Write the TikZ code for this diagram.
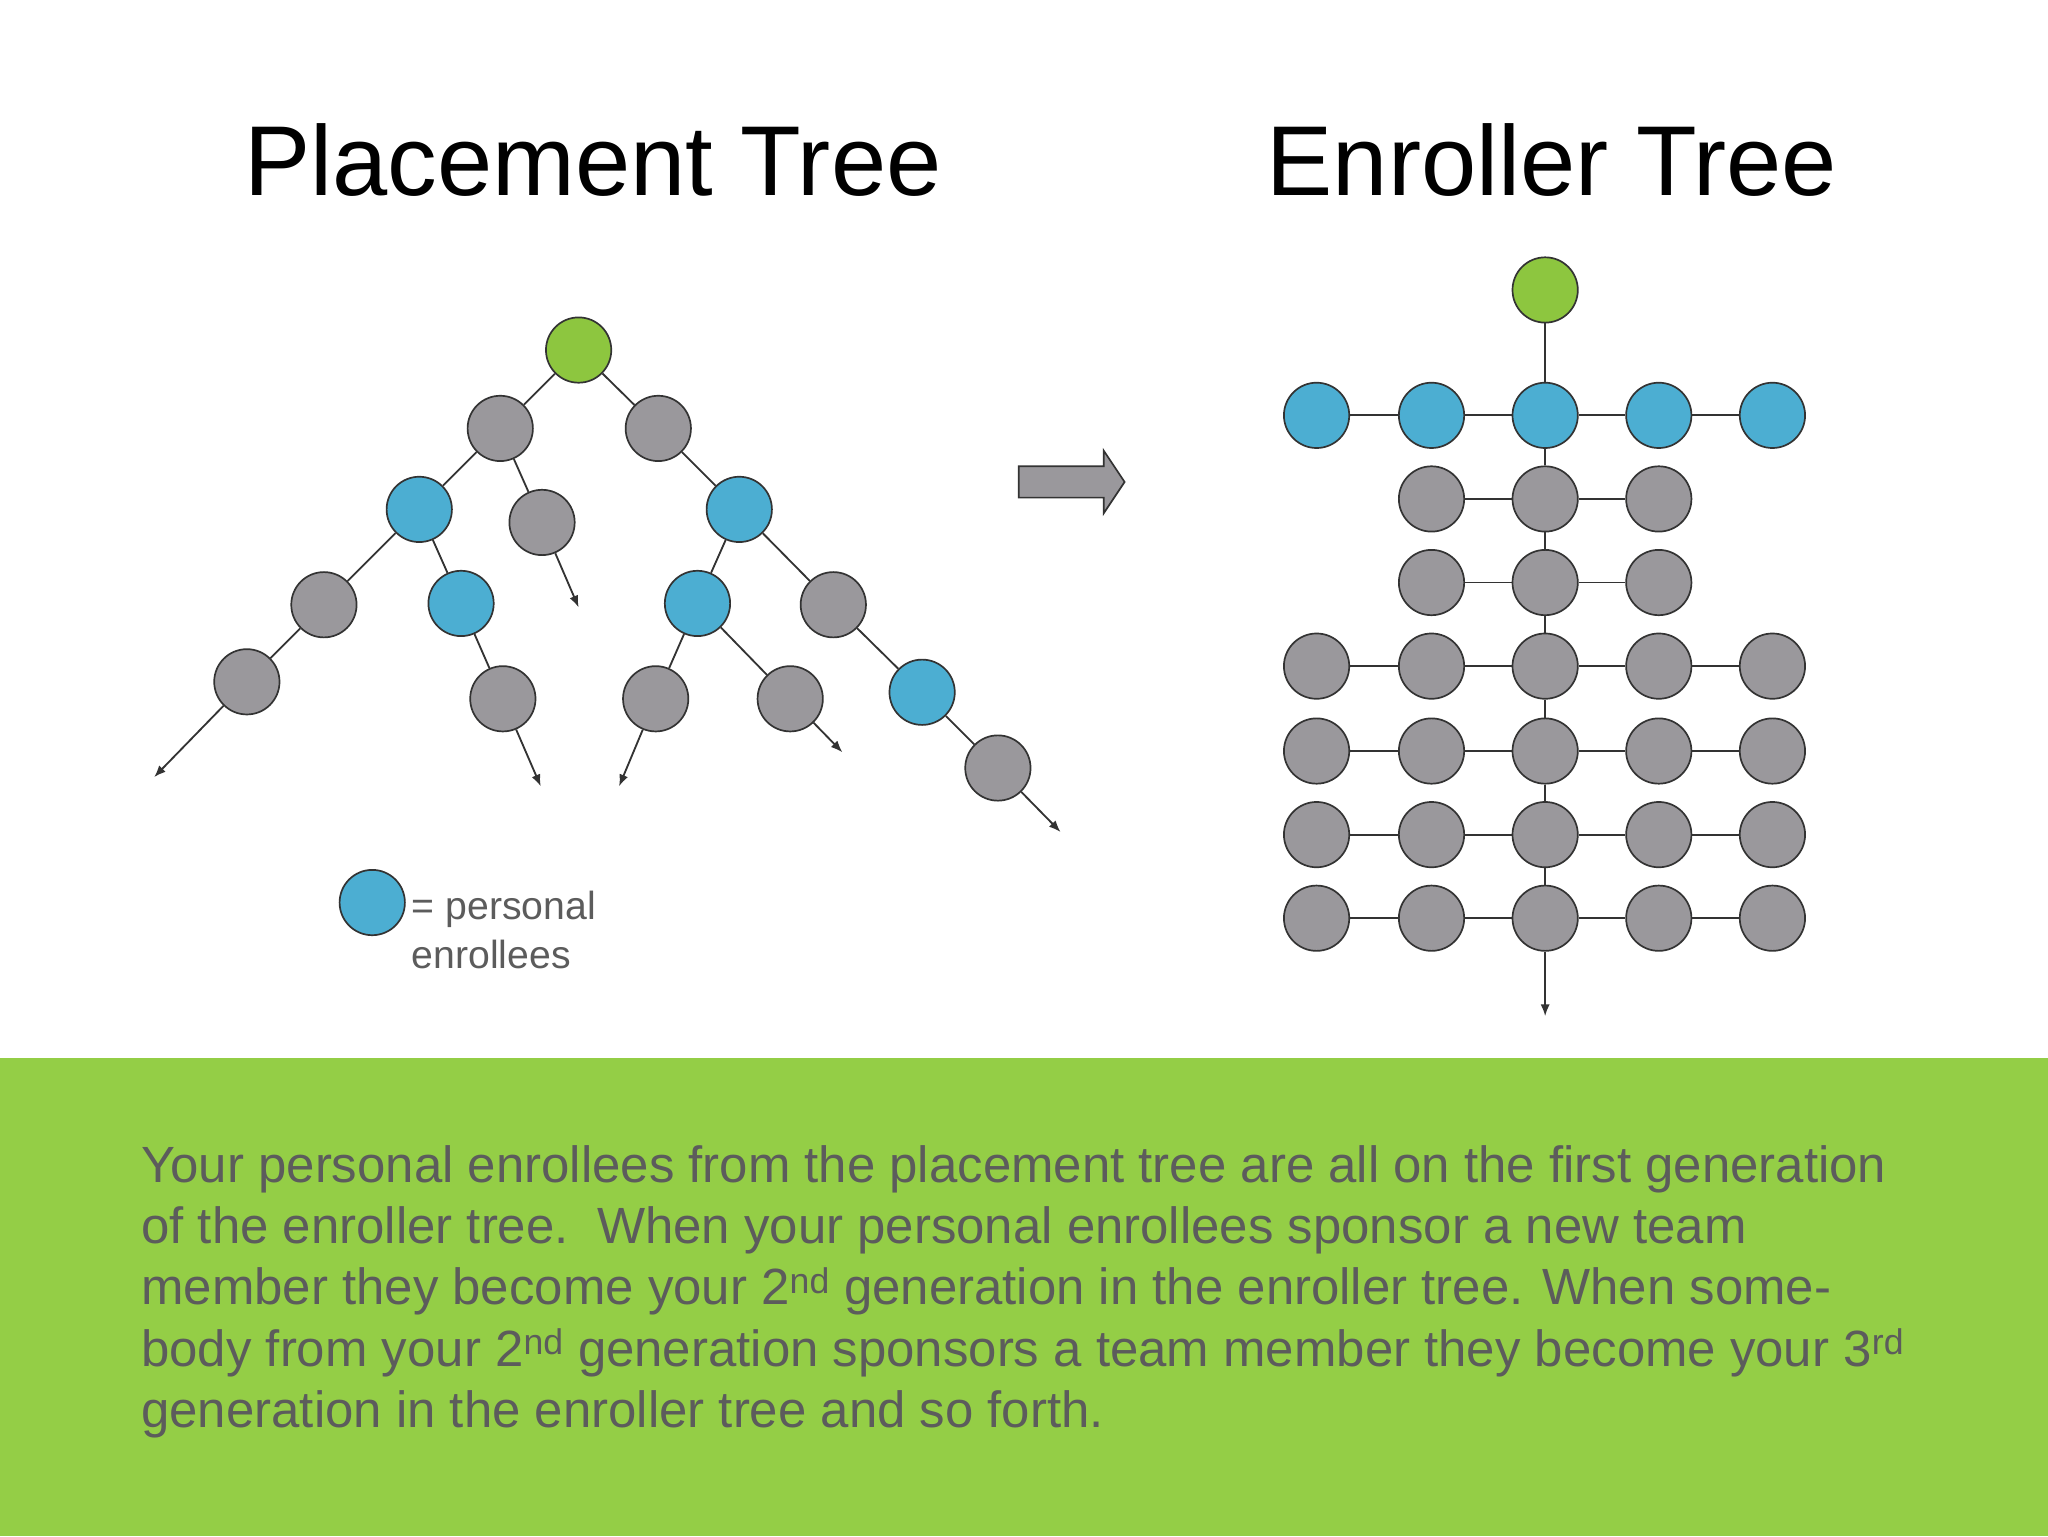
\documentclass[tikz,border=0pt]{standalone}
\usepackage{fontspec}
\setmainfont{Liberation Sans}
\usetikzlibrary{arrows.meta}
\definecolor{ngray}{RGB}{154,152,156}
\definecolor{nblue}{RGB}{76,174,210}
\definecolor{ngreen}{RGB}{141,198,63}
\definecolor{band}{RGB}{148,206,70}
\definecolor{txt}{RGB}{92,92,92}
\begin{document}
\begin{tikzpicture}[x=1pt,y=-1pt,
  n/.style={circle,draw=black!80,line width=1.3pt,minimum size=50pt,inner sep=0pt},
  g/.style={n,fill=ngray}, b/.style={n,fill=nblue}, r/.style={n,fill=ngreen},
  e/.style={draw=black!80,line width=1.4pt},
  a/.style={e,-{Latex[length=9pt,width=7pt]}},
  body/.style={anchor=base west,inner sep=0pt,text=txt,font=\fontsize{39}{46}\selectfont}]
\useasboundingbox (0,0) rectangle (1568,1176);
\fill[white] (0,0) rectangle (1568,810);
\fill[band] (0,810) rectangle (1568,1176);
% titles
\node[anchor=base,inner sep=0pt,font=\fontsize{76}{86}\selectfont] (t1) at (454,150) {Placement Tree};
\node[anchor=base,inner sep=0pt,font=\fontsize{76}{86}\selectfont] (t2) at (1188,150) {Enroller Tree};
% placement tree
\node[r] (p0) at (443,268) {};
\node[g] (g1) at (383,328) {};
\node[g] (g2) at (504,328) {};
\node[b] (b1) at (321,390) {};
\node[g] (g3) at (415,400) {};
\node[b] (b2) at (566,390) {};
\node[g] (g4) at (248,463) {};
\node[b] (b3) at (353,462) {};
\node[g] (g5) at (189,522) {};
\node[g] (g6) at (385,535) {};
\node[b] (b4) at (534,462) {};
\node[g] (g7) at (638,463) {};
\node[g] (g8) at (502,535) {};
\node[g] (g9) at (605,535) {};
\node[b] (b5) at (706,530) {};
\node[g] (g10) at (764,588) {};
\coordinate (e3) at (443,465);
\coordinate (e5) at (118,595);
\coordinate (e6) at (414,602);
\coordinate (e8) at (474,602);
\coordinate (e9) at (645,576);
\coordinate (e10) at (812,637);
\draw[e] (p0)--(g1) (p0)--(g2) (g1)--(b1) (g1)--(g3) (g2)--(b2)
  (b1)--(g4) (b1)--(b3) (g4)--(g5) (b3)--(g6) (b2)--(b4) (b2)--(g7)
  (b4)--(g8) (b4)--(g9) (g7)--(b5) (b5)--(g10);
\draw[a] (g3)--(e3); \draw[a] (g5)--(e5); \draw[a] (g6)--(e6);
\draw[a] (g8)--(e8); \draw[a] (g9)--(e9); \draw[a] (g10)--(e10);
% legend
\node[b] (lg) at (285,691) {};
\node[anchor=west,inner sep=0pt,text=txt,font=\fontsize{30}{37}\selectfont,align=left] (lt) at (315,712) {= personal\\enrollees};
% block arrow
\draw[fill=ngray,draw=black!80,line width=1.3pt] (780,357) -- (845,357) -- (845,345) -- (861,369) -- (845,393) -- (845,381) -- (780,381) -- cycle;
% enroller tree
\node[r] (r0) at (1183,222) {};
\foreach \i/\x in {1/1008,2/1096,3/1183,4/1270,5/1357}{
  \node[b] (q1\i) at (\x,318) {};}
\foreach \row/\y in {2/382,3/446}{
  \foreach \i/\x in {2/1096,3/1183,4/1270}{\node[g] (q\row\i) at (\x,\y) {};}
  \draw[e] (q\row2)--(q\row3)--(q\row4);}
\foreach \row/\y in {4/510,5/575,6/639,7/703}{
  \foreach \i/\x in {1/1008,2/1096,3/1183,4/1270,5/1357}{\node[g] (q\row\i) at (\x,\y) {};}
  \draw[e] (q\row1)--(q\row2)--(q\row3)--(q\row4)--(q\row5);}
\draw[e] (q11)--(q12)--(q13)--(q14)--(q15);
\draw[e] (r0)--(q13)--(q23)--(q33)--(q43)--(q53)--(q63)--(q73);
\coordinate (qe) at (1183,778);
\draw[a] (q73)--(qe);
% body text
\node[body] (l1) at (108,905) {Your personal enrollees from the placement tree are all on the first generation};
\node[body] (l2) at (108,952) {of the enroller tree.\ \ When your personal enrollees sponsor a new team};
\node[body] (l3) at (108,999) {member they become your 2\textsuperscript{nd} generation in the enroller tree. When some-};
\node[body] (l4) at (108,1046) {body from your 2\textsuperscript{nd} generation sponsors a team member they become your 3\textsuperscript{rd}};
\node[body] (l5) at (108,1093) {generation in the enroller tree and so forth.};
\end{tikzpicture}
\end{document}
